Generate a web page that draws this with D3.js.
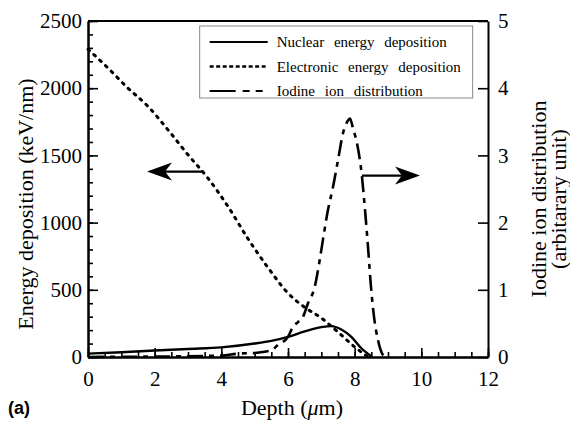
<!DOCTYPE html>
<html>
<head>
<meta charset="utf-8">
<script src="https://cdn.jsdelivr.net/npm/d3@7"></script>
<style>
    body { margin: 0; background: #fff; }
    svg { display: block; }
    .axis path, .axis line { stroke: #000; }
    .axis path { stroke-width: 2px; }
    .axis line { stroke-width: 1.6px; }
    .axis text { font-family: 'Liberation Serif', 'DejaVu Serif', serif !important; font-size: 21px; fill: #000; }
    .title { font-family: 'Liberation Serif', 'DejaVu Serif', serif; font-size: 22px; fill: #000; }
    .legend text { font-family: 'Liberation Serif', 'DejaVu Serif', serif; font-size: 15px; word-spacing: 6px; fill: #000; }
</style>
</head>
<body>
<svg id="chart"></svg>
<script>
// depth (um) vs values
const elecDepth = [0, 0.6, 1.2, 1.8, 2.4, 3.0, 3.6, 4.2, 4.8, 5.4, 6.0, 6.5, 7.0, 7.5, 8.0, 8.4]
const elecValues = [2290, 2150, 2000, 1865, 1690, 1505, 1330, 1120, 880, 665, 475, 370, 290, 185, 75, 0]

const nucDepth = [0, 1, 2, 3, 4, 5, 5.5, 6, 6.5, 7, 7.3, 7.6, 7.9, 8.2, 8.5]
const nucValues = [25, 35, 48, 60, 72, 100, 120, 150, 190, 222, 230, 205, 150, 65, 5]

const iodDepth = [0, 4.0, 4.5, 5.0, 5.5, 5.7, 6.0, 6.15, 6.3, 6.45, 6.6, 6.8, 6.95, 7.05, 7.2, 7.35, 7.5, 7.65, 7.8, 7.86, 7.95, 8.07, 8.22, 8.31, 8.4, 8.48, 8.58, 8.7, 8.85, 8.95]
const iodValues = [0, 0.02, 0.05, 0.06, 0.1, 0.18, 0.3, 0.45, 0.52, 0.6, 0.8, 1.04, 1.44, 1.75, 2.19, 2.53, 2.93, 3.33, 3.52, 3.55, 3.4, 3.18, 2.68, 2.19, 1.64, 1.1, 0.6, 0.25, 0.03, 0]

const xTicks = [0, 2, 4, 6, 8, 10, 12]
const yLeftTicks = [0, 500, 1000, 1500, 2000, 2500]
const yRightTicks = [0, 1, 2, 3, 4, 5]

const legendLabels = ['Nuclear energy deposition', 'Electronic energy deposition', 'Iodine ion distribution']

const W = 570, H = 422
const margin = { top: 21, right: 82, bottom: 65, left: 88 }
const width = W - margin.left - margin.right
const height = H - margin.top - margin.bottom

const styles = [
    { dash: null, width: 2.4 },
    { dash: '2,6', width: 3 },
    { dash: '16,6,5,6', width: 2.6 }
]

const svg = d3.select('#chart')
    .attr('width', W)
    .attr('height', H)

const chart = svg.append('g')
    .attr('transform', `translate(${margin.left}, ${margin.top})`)

const xScale = d3.scaleLinear().domain([0, 12]).range([0, width])
const yLeft = d3.scaleLinear().domain([0, 2500]).range([height, 0])
const yRight = d3.scaleLinear().domain([0, 5]).range([height, 0])

// d3 puts sans-serif on the axis group, drop it so the css font applies
function styleAxis(g) {
    g.attr('font-family', null).attr('font-size', null)
}

// minor ticks first so major ones sit on top
chart.append('g')
    .attr('class', 'axis')
    .attr('transform', `translate(0, ${height})`)
    .call(d3.axisBottom(xScale).tickValues(d3.range(0, 12.01, 0.5)).tickSize(-5).tickSizeOuter(0).tickFormat(''))
chart.append('g')
    .attr('class', 'axis')
    .call(d3.axisLeft(yLeft).tickValues(d3.range(0, 2501, 100)).tickSize(-5).tickSizeOuter(0).tickFormat(''))

chart.append('g')
    .attr('class', 'axis')
    .attr('transform', `translate(0, ${height})`)
    .call(d3.axisBottom(xScale).tickValues(xTicks).tickSize(-9).tickSizeOuter(0).tickPadding(14).tickFormat(d3.format('d')))
    .call(styleAxis)

chart.append('g')
    .attr('class', 'axis')
    .call(d3.axisLeft(yLeft).tickValues(yLeftTicks).tickSize(-10).tickSizeOuter(0).tickPadding(6).tickFormat(d3.format('d')))
    .call(styleAxis)

chart.append('g')
    .attr('class', 'axis')
    .attr('transform', `translate(${width}, 0)`)
    .call(d3.axisRight(yRight).tickValues(yRightTicks).tickSize(-10).tickSizeOuter(0).tickPadding(10).tickFormat(d3.format('d')))
    .call(styleAxis)

// top frame line
chart.append('line')
    .attr('x1', 0).attr('x2', width)
    .attr('y1', 0).attr('y2', 0)
    .attr('stroke', '#000').attr('stroke-width', 2)

const lineLeft = d3.line()
    .x(d => xScale(d[0]))
    .y(d => yLeft(d[1]))
    .curve(d3.curveMonotoneX)
const lineRight = d3.line()
    .x(d => xScale(d[0]))
    .y(d => yRight(d[1]))
    .curve(d3.curveMonotoneX)

const series = [
    { pts: d3.zip(nucDepth, nucValues), line: lineLeft },
    { pts: d3.zip(elecDepth, elecValues), line: lineLeft },
    { pts: d3.zip(iodDepth, iodValues), line: lineRight }
]

series.forEach((s, i) => {
    chart.append('path')
        .datum(s.pts)
        .attr('fill', 'none')
        .attr('stroke', '#000')
        .attr('stroke-width', styles[i].width)
        .attr('stroke-dasharray', styles[i].dash)
        .attr('stroke-linecap', i === 1 ? 'round' : 'butt')
        .attr('d', s.line)
})

// arrows pointing to the axis each curve belongs to
const arrowY = [yLeft(1380), yRight(2.7)]
function arrow(x1, x2, y) {
    const dir = Math.sign(x2 - x1)
    chart.append('line')
        .attr('x1', xScale(x1)).attr('x2', xScale(x2) - dir * 18)
        .attr('y1', y).attr('y2', y)
        .attr('stroke', '#000').attr('stroke-width', 2.2)
    const tx = xScale(x2)
    chart.append('path')
        .attr('d', `M${tx},${y} L${tx - dir * 25},${y - 9} L${tx - dir * 18},${y} L${tx - dir * 25},${y + 9} Z`)
        .attr('fill', '#000')
}
arrow(3.45, 1.77, arrowY[0])
arrow(8.22, 9.96, arrowY[1])

// legend
const legend = chart.append('g')
    .attr('class', 'legend')
    .attr('transform', `translate(${xScale(3.35)}, 5)`)
legend.append('rect')
    .attr('width', 273).attr('height', 72)
    .attr('fill', '#fff').attr('stroke', '#888').attr('stroke-width', 1)
legendLabels.forEach((label, i) => {
    const y = 16 + i * 24.5
    legend.append('line')
        .attr('x1', 10).attr('x2', 68)
        .attr('y1', y).attr('y2', y)
        .attr('stroke', '#000')
        .attr('stroke-width', i === 1 ? 2.4 : 2)
        .attr('stroke-dasharray', i === 1 ? '4,2.5' : (i === 2 ? '26,7,7,6,7' : null))
    legend.append('text')
        .attr('x', 77).attr('y', y + 5)
        .text(label)
})

// axis titles
svg.append('text')
    .attr('class', 'title')
    .attr('transform', `translate(33, ${margin.top + height / 2 + 15}) rotate(-90)`)
    .attr('text-anchor', 'middle')
    .text('Energy deposition (keV/nm)')

const rightTitle = svg.append('text')
    .attr('class', 'title')
    .attr('transform', `translate(546, ${margin.top + height / 2 + 10}) rotate(-90)`)
    .attr('text-anchor', 'middle')
rightTitle.append('tspan').attr('x', 0).attr('dy', 0).text('Iodine ion distribution')
rightTitle.append('tspan').attr('x', 0).attr('dy', 20).text('(arbitarary unit)')

const xTitle = svg.append('text')
    .attr('class', 'title')
    .attr('x', 292).attr('y', 415)
    .attr('text-anchor', 'middle')
xTitle.append('tspan').text('Depth (')
xTitle.append('tspan').attr('font-style', 'italic').text('\u03bc')
xTitle.append('tspan').text('m)')

svg.append('text')
    .attr('x', 8).attr('y', 414)
    .attr('font-family', 'Liberation Sans, Arial, sans-serif')
    .attr('font-weight', 'bold')
    .attr('font-size', 18)
    .text('(a)')
</script>
</body>
</html>
